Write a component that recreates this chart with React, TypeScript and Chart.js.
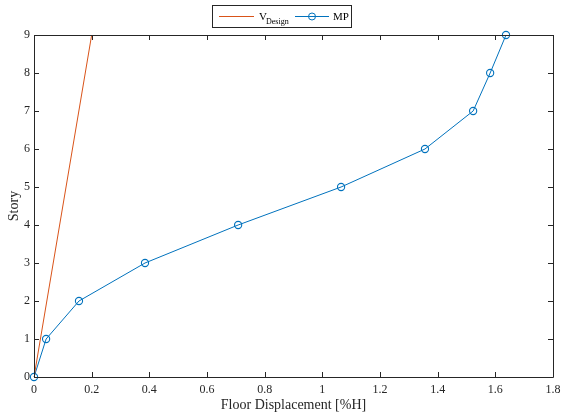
import React, { useEffect, useRef } from "react";
import { Chart, registerables } from "chart.js";

Chart.register(...registerables);

// Floor displacement (% of height) per story
const stories = [0, 1, 2, 3, 4, 5, 6, 7, 8, 9];
const mpDisplacement = [0, 0.042, 0.156, 0.385, 0.708, 1.065, 1.356, 1.523, 1.582, 1.637];
const designDisplacement = [0, 0.2];
const designStories = [0, 9];

const xTicks = [0, 0.2, 0.4, 0.6, 0.8, 1, 1.2, 1.4, 1.6, 1.8];
const yTicks = [0, 1, 2, 3, 4, 5, 6, 7, 8, 9];

const ORANGE = "#D95319";
const BLUE = "#0072BD";
const AXIS = "#262626";
const FONT = "'Liberation Serif', 'Times New Roman', serif";

// Box frame with inward ticks on all four sides, plus a framed legend
const framePlugin = {
  id: "frame",
  afterDraw(chart: any) {
    const { ctx, chartArea: a, scales } = chart;
    const xs = scales.x;
    const ys = scales.y;
    const tl = 5;
    ctx.save();
    ctx.strokeStyle = AXIS;
    ctx.lineWidth = 1;
    ctx.beginPath();
    ctx.rect(Math.round(a.left) + 0.5, Math.round(a.top) + 0.5, Math.round(a.right - a.left), Math.round(a.bottom - a.top));
    ctx.stroke();
    ctx.beginPath();
    xTicks.forEach((v) => {
      const px = Math.round(xs.getPixelForValue(v)) + 0.5;
      ctx.moveTo(px, a.bottom);
      ctx.lineTo(px, a.bottom - tl);
      ctx.moveTo(px, a.top);
      ctx.lineTo(px, a.top + tl);
    });
    yTicks.forEach((v) => {
      const py = Math.round(ys.getPixelForValue(v)) + 0.5;
      ctx.moveTo(a.left, py);
      ctx.lineTo(a.left + tl, py);
      ctx.moveTo(a.right, py);
      ctx.lineTo(a.right - tl, py);
    });
    ctx.stroke();

    // Legend
    const lx = 212.5, ly = 5.5, lw = 139, lh = 22;
    ctx.fillStyle = "#ffffff";
    ctx.fillRect(lx, ly, lw, lh);
    ctx.strokeStyle = AXIS;
    ctx.strokeRect(lx, ly, lw, lh);
    const cy = 16.5;
    ctx.strokeStyle = ORANGE;
    ctx.beginPath();
    ctx.moveTo(219, cy);
    ctx.lineTo(254, cy);
    ctx.stroke();
    ctx.fillStyle = "#000000";
    ctx.textBaseline = "alphabetic";
    ctx.textAlign = "left";
    ctx.font = `11px ${FONT}`;
    ctx.fillText("V", 259, 20);
    ctx.font = `8px ${FONT}`;
    ctx.fillText("Design", 266, 24);
    ctx.strokeStyle = BLUE;
    ctx.beginPath();
    ctx.moveTo(295, cy);
    ctx.lineTo(329, cy);
    ctx.stroke();
    ctx.beginPath();
    ctx.arc(312, cy, 3.5, 0, Math.PI * 2);
    ctx.stroke();
    ctx.font = `11px ${FONT}`;
    ctx.fillText("MP", 333, 20);
    ctx.restore();
  },
};

export default function App() {
  const canvasRef = useRef<HTMLCanvasElement | null>(null);

  useEffect(() => {
    document.body.style.margin = "0";
    const canvas = canvasRef.current;
    if (!canvas) return;
    const chart = new Chart(canvas, {
      type: "line",
      data: {
        datasets: [
          {
            label: "V Design",
            data: designDisplacement.map((x, i) => ({ x, y: designStories[i] })),
            borderColor: ORANGE,
            borderWidth: 1,
            pointRadius: 0,
            fill: false,
          },
          {
            label: "MP",
            data: mpDisplacement.map((x, i) => ({ x, y: stories[i] })),
            borderColor: BLUE,
            backgroundColor: "rgba(0,0,0,0)",
            borderWidth: 1,
            pointRadius: 3.6,
            pointBorderWidth: 1.1,
            pointBorderColor: BLUE,
            pointBackgroundColor: "rgba(0,0,0,0)",
            fill: false,
            clip: false as any,
          },
        ],
      },
      options: {
        animation: false,
        responsive: false,
        layout: { padding: { top: 35, right: 8, left: 0, bottom: 0 } },
        plugins: { legend: { display: false }, tooltip: { enabled: false } },
        scales: {
          x: {
            type: "linear",
            min: 0,
            max: 1.8,
            afterBuildTicks: (s: any) => {
              s.ticks = xTicks.map((value) => ({ value }));
            },
            afterFit: (s: any) => {
              s.height = 42;
              s.paddingLeft = 0;
              s.paddingRight = 0;
            },
            grid: { display: false, drawTicks: false },
            border: { display: false },
            ticks: {
              color: AXIS,
              font: { family: FONT, size: 12 },
              padding: 6,
              maxRotation: 0,
              callback: (v: any) => String(Math.round(Number(v) * 10) / 10),
            },
            title: {
              display: true,
              text: "Floor Displacement [%H]",
              color: AXIS,
              font: { family: FONT, size: 14 },
              padding: { top: 0, bottom: 5 },
            },
          },
          y: {
            type: "linear",
            min: 0,
            max: 9,
            afterBuildTicks: (s: any) => {
              s.ticks = yTicks.map((value) => ({ value }));
            },
            afterFit: (s: any) => {
              s.width = 34;
              s.paddingTop = 0;
              s.paddingBottom = 0;
            },
            grid: { display: false, drawTicks: false },
            border: { display: false },
            ticks: {
              color: AXIS,
              font: { family: FONT, size: 12 },
              padding: 4,
            },
            title: {
              display: true,
              text: "Story",
              color: AXIS,
              font: { family: FONT, size: 14 },
              padding: { top: 6, bottom: 0 },
            },
          },
        },
      },
      plugins: [framePlugin],
    });
    return () => chart.destroy();
  }, []);

  return (
    <div style={{ width: 561, height: 419, background: "#ffffff" }}>
      <canvas ref={canvasRef} width={561} height={419} style={{ display: "block" }} />
    </div>
  );
}
